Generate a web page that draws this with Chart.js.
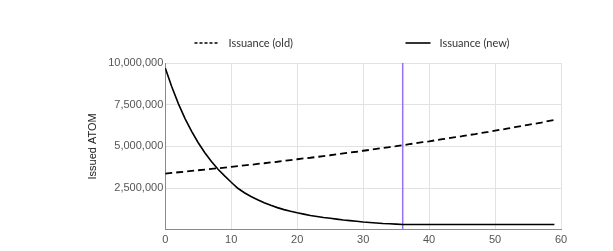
<!DOCTYPE html>
<html>
<head>
<meta charset="utf-8">
<script src="https://cdn.jsdelivr.net/npm/chart.js@4"></script>
<style>
html,body{margin:0;padding:0;background:#fff;}
#wrap{position:relative;width:613px;height:251px;}
</style>
</head>
<body>
<div id="wrap"><canvas id="c" width="613" height="251"></canvas></div>
<script>
const periods = [0,1,2,3,4,5,6,7,8,9,10,11,12,13,14,15,16,17,18,19,20,21,22,23,24,25,26,27,28,29,30,31,32,33,34,35,36,37,38,39,40,41,42,43,44,45,46,47,48,49,50,51,52,53,54,55,56,57,58,59];
const issuanceOld = [3370000,3410000,3450000,3490000,3530000,3570000,3610000,3650000,3690000,3730000,3770000,3820000,3860000,3900000,3950000,3990000,4040000,4080000,4130000,4180000,4230000,4280000,4320000,4370000,4420000,4470000,4530000,4580000,4630000,4680000,4740000,4790000,4850000,4900000,4960000,5010000,5070000,5130000,5190000,5250000,5300000,5370000,5430000,5490000,5550000,5610000,5680000,5740000,5810000,5870000,5940000,6010000,6080000,6150000,6220000,6290000,6360000,6430000,6510000,6580000];
const issuanceNew = [9700000,8560000,7550000,6670000,5900000,5220000,4620000,4100000,3630000,3230000,2850000,2490000,2220000,2000000,1800000,1620000,1470000,1330000,1210000,1110000,1020000,940000,860000,800000,740000,690000,640000,590000,550000,510000,470000,440000,410000,380000,360000,340000,320000,320000,320000,320000,320000,320000,320000,320000,320000,320000,320000,320000,320000,320000,320000,320000,320000,320000,320000,320000,320000,320000,320000,320000];
const seriesNames = ['Issuance (old)', 'Issuance (new)'];
const markerPeriod = 36;
const yTicks = [0, 2500000, 5000000, 7500000, 10000000];
const xTicks = [0, 10, 20, 30, 40, 50, 60];

function toPoints(xsArr, ysArr){ return xsArr.map((x, i) => ({x: x, y: ysArr[i]})); }

const LEG_PAD = 17;
const GLYPH_W = 123.5;

function legendGlyph(dashed){
  const W = Math.round(GLYPH_W), H = 4;
  const cv = document.createElement('canvas');
  cv.width = W; cv.height = H;
  const g = cv.getContext('2d');
  g.strokeStyle = '#000';
  g.lineWidth = 1.6;
  if (dashed) { g.setLineDash([3, 2]); }
  g.beginPath();
  const s = W - 28.5;
  g.moveTo(s, H/2);
  g.lineTo(dashed ? s + 23 : s + 25, H/2);
  g.stroke();
  return cv;
}
const glyphs = [legendGlyph(true), legendGlyph(false)];

const tickFont = {family: "'Liberation Sans', Arial, sans-serif", size: 11};

new Chart(document.getElementById('c'), {
  type: 'line',
  data: {
    datasets: [
      {
        label: seriesNames[0],
        data: toPoints(periods, issuanceOld),
        borderColor: '#000',
        backgroundColor: '#000',
        borderWidth: 1.8,
        borderDash: [7, 4],
        pointRadius: 0,
        fill: false,
        tension: 0
      },
      {
        label: seriesNames[1],
        data: toPoints(periods, issuanceNew),
        borderColor: '#000',
        backgroundColor: '#000',
        borderWidth: 1.6,
        pointRadius: 0,
        fill: false,
        tension: 0
      },
      {
        label: 'marker',
        data: [{x: markerPeriod, y: yTicks[0]}, {x: markerPeriod, y: yTicks[yTicks.length - 1]}],
        borderColor: 'rgb(150,112,245)',
        borderWidth: 1.5,
        pointRadius: 0,
        fill: false
      }
    ]
  },
  options: {
    responsive: false,
    animation: false,
    devicePixelRatio: 1,
    layout: {padding: {left: 82, right: 52, top: 20.5, bottom: 0}},
    plugins: {
      tooltip: {enabled: false},
      legend: {
        position: 'top',
        align: 'start',
        labels: {
          usePointStyle: true,
          pointStyleWidth: Math.round(GLYPH_W),
          padding: LEG_PAD,
          color: '#333',
          font: {family: "Lato, 'Open Sans', sans-serif", size: 11},
          filter: (item) => item.datasetIndex < 2,
          generateLabels: (chart) => {
            const items = Chart.defaults.plugins.legend.labels.generateLabels(chart);
            items.forEach(it => { if (it.datasetIndex < 2) it.pointStyle = glyphs[it.datasetIndex]; });
            return items;
          }
        }
      }
    },
    scales: {
      x: {
        type: 'linear',
        min: xTicks[0],
        max: xTicks[xTicks.length - 1],
        afterBuildTicks: (s) => { s.ticks = xTicks.map(v => ({value: v})); },
        ticks: {color: '#555', font: tickFont, padding: 4, maxRotation: 0},
        grid: {color: '#e2e2e2', lineWidth: 1, drawTicks: false},
        border: {color: '#8a8a8a', width: 1}
      },
      spacerTop: {
        type: 'linear',
        position: 'top',
        axis: 'x',
        display: true,
        grid: {display: false, drawTicks: false},
        border: {display: false},
        ticks: {display: false},
        afterFit: (s) => { s.height = 4.5; }
      },
      y: {
        min: yTicks[0],
        max: yTicks[yTicks.length - 1],
        afterBuildTicks: (s) => { s.ticks = yTicks.map(v => ({value: v})); },
        ticks: {
          color: '#555',
          font: tickFont,
          padding: 2,
          callback: (v) => v === 0 ? '' : Number(v).toLocaleString('en-US')
        },
        grid: {color: '#e2e2e2', lineWidth: 1, drawTicks: false},
        border: {color: '#8a8a8a', width: 1},
        title: {
          display: true,
          text: 'Issued ATOM',
          color: '#222',
          font: {family: "'Liberation Sans', Arial, sans-serif", size: 11},
          padding: {top: 4, bottom: 7}
        }
      }
    }
  }
});
</script>
</body>
</html>
